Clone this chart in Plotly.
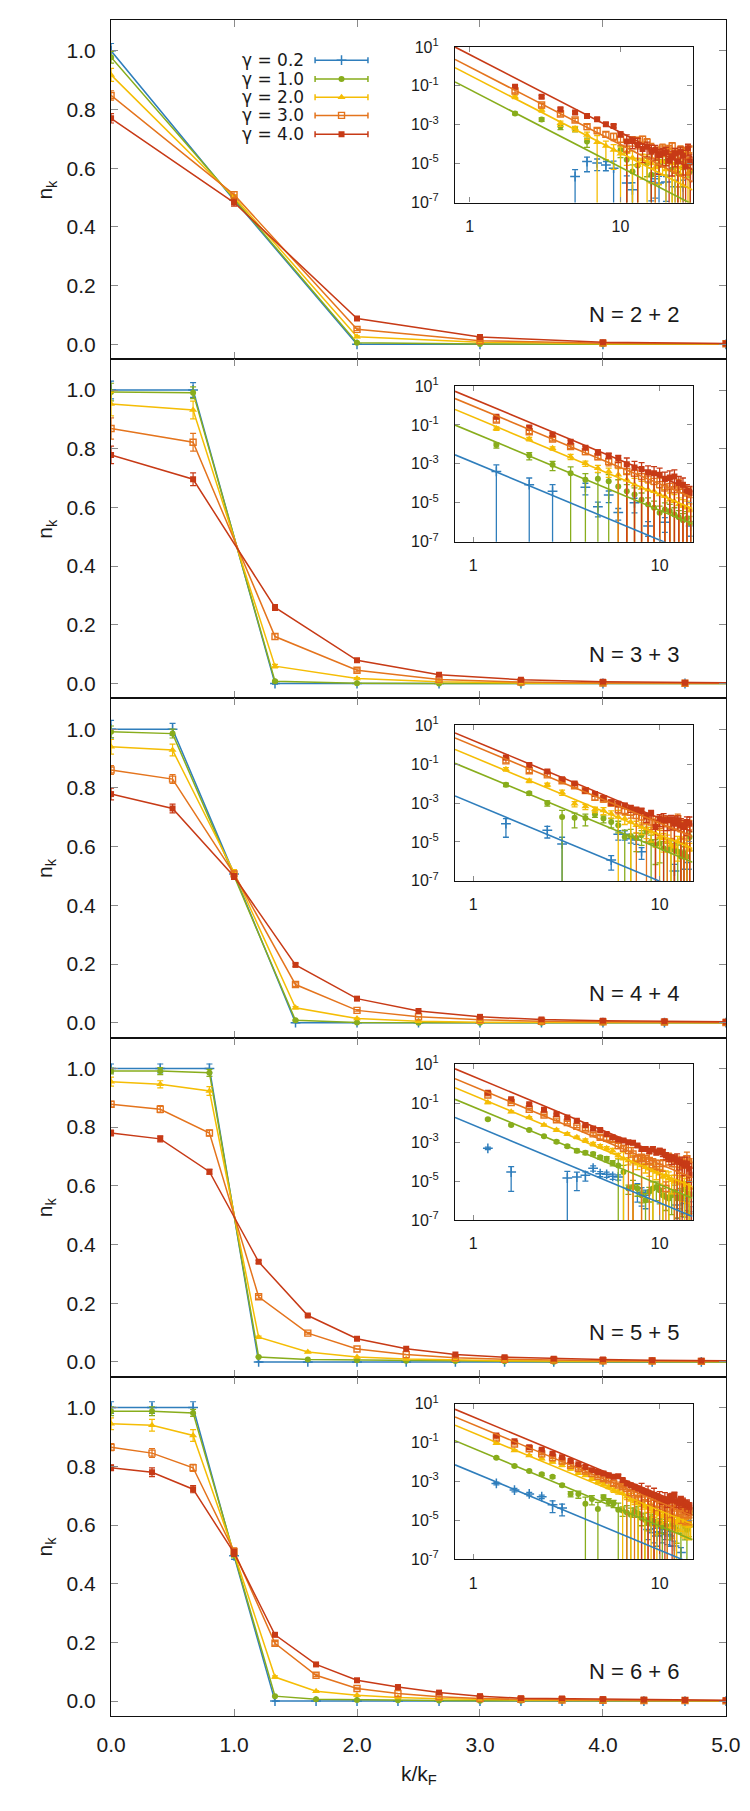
import math
import plotly.graph_objects as go

FONT = "Liberation Sans, Arial, Helvetica, sans-serif"
SERIES_NAMES = ["γ = 0.2", "γ = 1.0", "γ = 2.0", "γ = 3.0", "γ = 4.0"]
COLORS = ["#2f7ebc", "#88ad1c", "#f5bd05", "#e4741d", "#c73a16"]
SYMBOLS = ["cross-thin", "circle", "triangle-up", "square-open", "square"]
PANEL_LABELS = ["N = 2 + 2", "N = 3 + 3", "N = 4 + 4", "N = 5 + 5", "N = 6 + 6"]
MAIN_XTICKS = [0, 1, 2, 3, 4, 5]
MAIN_YTICKS = [0.0, 0.2, 0.4, 0.6, 0.8, 1.0]
INSET_XTICKS = [1, 10]
INSET_XTEXT = ["1", "10"]
INSET_YTICKS = [1e1, 1e-1, 1e-3, 1e-5, 1e-7]
INSET_YTEXT = ["10<sup>1</sup>", "10<sup>-1</sup>", "10<sup>-3</sup>", "10<sup>-5</sup>", "10<sup>-7</sup>"]

# ---------------- main panels: n_k vs k/k_F ----------------
P1_K = [0, 1, 2, 3, 4, 5]
P1_G02 = [1.000, 0.492, 0.000, 0.000, 0.000, 0.000]
P1_G10 = [0.978, 0.496, 0.005, 0.001, 0.000, 0.000]
P1_G20 = [0.918, 0.502, 0.026, 0.007, 0.002, 0.001]
P1_G30 = [0.848, 0.510, 0.051, 0.012, 0.004, 0.002]
P1_G40 = [0.770, 0.483, 0.088, 0.025, 0.007, 0.003]
P1_E02 = [0.025, 0.010, 0.0, 0.0, 0.0, 0.0]
P1_E10 = [0.020, 0.010, 0.002, 0.0, 0.0, 0.0]
P1_E20 = [0.022, 0.008, 0.003, 0.0, 0.0, 0.0]
P1_E30 = [0.016, 0.010, 0.004, 0.002, 0.0, 0.0]
P1_E40 = [0.016, 0.012, 0.004, 0.002, 0.0, 0.0]

P2_K = [0.0, 0.667, 1.333, 2.0, 2.667, 3.333, 4.0, 4.667, 5.333]
P2_G02 = [1.000, 1.000, 0.000, 0.000, 0.000, 0.000, 0.000, 0.000, 0.000]
P2_G10 = [0.993, 0.991, 0.008, 0.001, 0.000, 0.000, 0.000, 0.000, 0.000]
P2_G20 = [0.952, 0.932, 0.059, 0.017, 0.006, 0.002, 0.001, 0.001, 0.000]
P2_G30 = [0.869, 0.822, 0.160, 0.045, 0.014, 0.005, 0.002, 0.001, 0.001]
P2_G40 = [0.779, 0.696, 0.259, 0.079, 0.030, 0.013, 0.006, 0.003, 0.002]
P2_E02 = [0.030, 0.025, 0.002, 0.0, 0.0, 0.0, 0.0, 0.0, 0.0]
P2_E10 = [0.030, 0.020, 0.003, 0.0, 0.0, 0.0, 0.0, 0.0, 0.0]
P2_E20 = [0.040, 0.030, 0.006, 0.003, 0.0, 0.0, 0.0, 0.0, 0.0]
P2_E30 = [0.036, 0.030, 0.010, 0.005, 0.002, 0.0, 0.0, 0.0, 0.0]
P2_E40 = [0.030, 0.022, 0.010, 0.004, 0.002, 0.0, 0.0, 0.0, 0.0]

P3_K = [0.0, 0.5, 1.0, 1.5, 2.0, 2.5, 3.0, 3.5, 4.0, 4.5, 5.0]
P3_G02 = [1.000, 1.000, 0.507, 0.000, 0.000, 0.000, 0.000, 0.000, 0.000, 0.000, 0.000]
P3_G10 = [0.991, 0.985, 0.500, 0.008, 0.001, 0.000, 0.000, 0.000, 0.000, 0.000, 0.000]
P3_G20 = [0.940, 0.929, 0.512, 0.051, 0.014, 0.005, 0.002, 0.001, 0.001, 0.000, 0.000]
P3_G30 = [0.861, 0.830, 0.507, 0.130, 0.042, 0.020, 0.010, 0.005, 0.003, 0.002, 0.001]
P3_G40 = [0.779, 0.730, 0.498, 0.197, 0.082, 0.040, 0.020, 0.011, 0.007, 0.005, 0.003]
P3_E02 = [0.030, 0.020, 0.010, 0.0, 0.0, 0.0, 0.0, 0.0, 0.0, 0.0, 0.0]
P3_E10 = [0.020, 0.015, 0.010, 0.002, 0.0, 0.0, 0.0, 0.0, 0.0, 0.0, 0.0]
P3_E20 = [0.025, 0.020, 0.010, 0.004, 0.002, 0.0, 0.0, 0.0, 0.0, 0.0, 0.0]
P3_E30 = [0.015, 0.015, 0.010, 0.006, 0.003, 0.0, 0.0, 0.0, 0.0, 0.0, 0.0]
P3_E40 = [0.020, 0.015, 0.010, 0.006, 0.003, 0.0, 0.0, 0.0, 0.0, 0.0, 0.0]

P4_K = [0.0, 0.4, 0.8, 1.2, 1.6, 2.0, 2.4, 2.8, 3.2, 3.6, 4.0, 4.4, 4.8, 5.2]
P4_G02 = [1.000, 1.000, 1.000, 0.000, 0.000, 0.000, 0.000, 0.000, 0.000, 0.000, 0.000, 0.000, 0.000, 0.000]
P4_G10 = [0.991, 0.991, 0.985, 0.017, 0.008, 0.006, 0.004, 0.003, 0.002, 0.001, 0.001, 0.001, 0.000, 0.000]
P4_G20 = [0.955, 0.946, 0.923, 0.084, 0.034, 0.017, 0.010, 0.006, 0.004, 0.003, 0.002, 0.001, 0.001, 0.001]
P4_G30 = [0.878, 0.861, 0.780, 0.222, 0.098, 0.044, 0.025, 0.014, 0.009, 0.006, 0.004, 0.003, 0.002, 0.002]
P4_G40 = [0.780, 0.760, 0.648, 0.341, 0.158, 0.079, 0.045, 0.025, 0.016, 0.011, 0.008, 0.006, 0.004, 0.003]
P4_E02 = [0.015, 0.015, 0.015, 0.0, 0.0, 0.0, 0.0, 0.0, 0.0, 0.0, 0.0, 0.0, 0.0, 0.0]
P4_E10 = [0.010, 0.012, 0.012, 0.002, 0.0, 0.0, 0.0, 0.0, 0.0, 0.0, 0.0, 0.0, 0.0, 0.0]
P4_E20 = [0.015, 0.012, 0.015, 0.004, 0.002, 0.0, 0.0, 0.0, 0.0, 0.0, 0.0, 0.0, 0.0, 0.0]
P4_E30 = [0.010, 0.012, 0.010, 0.005, 0.003, 0.0, 0.0, 0.0, 0.0, 0.0, 0.0, 0.0, 0.0, 0.0]
P4_E40 = [0.010, 0.010, 0.008, 0.005, 0.003, 0.0, 0.0, 0.0, 0.0, 0.0, 0.0, 0.0, 0.0, 0.0]

P5_K = [0.0, 0.333, 0.667, 1.0, 1.333, 1.667, 2.0, 2.333, 2.667, 3.0, 3.333, 3.667, 4.0, 4.333, 4.667, 5.0]
P5_G02 = [1.000, 1.000, 1.000, 0.495, 0.000, 0.000, 0.000, 0.000, 0.000, 0.000, 0.000, 0.000, 0.000, 0.000, 0.000, 0.000]
P5_G10 = [0.988, 0.988, 0.982, 0.500, 0.017, 0.006, 0.004, 0.003, 0.002, 0.001, 0.001, 0.001, 0.000, 0.000, 0.000, 0.000]
P5_G20 = [0.945, 0.940, 0.905, 0.505, 0.082, 0.034, 0.020, 0.012, 0.008, 0.005, 0.004, 0.003, 0.002, 0.002, 0.001, 0.001]
P5_G30 = [0.865, 0.845, 0.795, 0.510, 0.197, 0.088, 0.043, 0.026, 0.015, 0.009, 0.006, 0.004, 0.003, 0.002, 0.002, 0.001]
P5_G40 = [0.795, 0.780, 0.722, 0.505, 0.226, 0.125, 0.071, 0.048, 0.029, 0.017, 0.010, 0.009, 0.007, 0.005, 0.004, 0.003]
P5_E02 = [0.020, 0.020, 0.020, 0.012, 0.0, 0.0, 0.0, 0.0, 0.0, 0.0, 0.0, 0.0, 0.0, 0.0, 0.0, 0.0]
P5_E10 = [0.015, 0.015, 0.012, 0.012, 0.002, 0.0, 0.0, 0.0, 0.0, 0.0, 0.0, 0.0, 0.0, 0.0, 0.0, 0.0]
P5_E20 = [0.020, 0.020, 0.020, 0.012, 0.004, 0.002, 0.0, 0.0, 0.0, 0.0, 0.0, 0.0, 0.0, 0.0, 0.0, 0.0]
P5_E30 = [0.012, 0.015, 0.012, 0.012, 0.006, 0.004, 0.002, 0.0, 0.0, 0.0, 0.0, 0.0, 0.0, 0.0, 0.0, 0.0]
P5_E40 = [0.010, 0.015, 0.012, 0.012, 0.006, 0.004, 0.002, 0.0, 0.0, 0.0, 0.0, 0.0, 0.0, 0.0, 0.0, 0.0]

# ---------------- insets: log10(n_k) tails, relative errors, fitted log10(C) of C/k^4 ----------------
P1I_K = [2, 3, 4, 5, 6, 7, 8, 9, 10, 11, 12, 13, 14, 15, 16, 17, 18, 19, 20, 21, 22, 23, 24, 25, 26, 27, 28, 29, 30]
P1I_G02 = [None, None, None, -5.67, -4.90, -4.97, -5.07, -5.24, None, -6.00, -6.35, None, None, None, -5.92, -5.78, -6.00, None, -5.95, None, None, -6.20, None, None, -6.20, None, None, None, None]
P1I_G10 = [-2.42, -2.73, -3.10, -3.22, -3.87, None, None, None, -4.30, -4.80, -5.41, -5.10, None, -4.98, -5.58, None, -5.07, None, -4.90, None, -5.30, None, -5.50, None, -5.20, None, -5.00, -5.40, None]
P1I_G20 = [-1.56, -2.25, -2.93, -3.20, -3.53, -3.90, -4.10, -4.30, -4.50, -4.40, -4.70, -5.07, -4.80, -4.90, -5.00, -5.20, -5.10, -4.90, -5.30, -4.47, -5.00, -5.40, -5.20, -5.60, -5.10, -4.47, -5.50, -5.30, None]
P1I_G30 = [-1.27, -1.99, -2.45, -2.76, -3.10, -3.30, -3.50, -3.60, -3.75, -4.25, -3.80, -3.85, -3.75, -3.90, -4.20, -4.60, -4.40, -4.20, -4.40, -4.30, -4.10, -4.50, -4.60, -4.30, -4.80, -4.40, -4.60, -4.30, None]
P1I_G40 = [-1.05, -1.56, -2.20, -2.38, -2.55, -2.72, -2.98, -3.07, -3.49, -3.87, -3.84, -4.04, -4.25, -4.13, -4.39, -4.30, -4.56, -4.47, -4.42, -4.86, -4.64, -4.47, -4.90, -4.39, -4.60, -5.15, -4.21, -4.90, -4.93]
P1I_R02 = [1, 1, 1, 1.3, 0.7, 0.6, 0.5, 1.3, 1, 1.3, 1.3, 1, 1, 1, 0.9, 0.9, 1.2, 1, 0.9, 1, 1, 1.2, 1, 1, 1.2, 1, 1, 1, 1]
P1I_R10 = [0.15, 0.2, 0.3, 0.3, 0.5, 0.5, 0.5, 0.5, 0.6, 1.2, 1.2, 1.2, 0.5, 0.8, 1.2, 0.5, 0.9, 0.5, 0.8, 0.5, 1.2, 0.5, 1.2, 0.5, 0.9, 0.5, 0.8, 1.2, 0.5]
P1I_R20 = [0.2, 0.2, 0.3, 0.3, 0.4, 1.2, 0.8, 0.9, 1.2, 0.8, 1.2, 1.2, 0.9, 1.2, 0.9, 1.2, 0.9, 0.8, 1.2, 0.7, 1.2, 1.2, 0.9, 1.2, 0.9, 0.7, 1.2, 1.2, 0.5]
P1I_R30 = [0.2, 0.2, 0.2, 0.2, 0.3, 0.3, 0.3, 0.4, 0.5, 1.2, 0.5, 0.6, 0.4, 0.5, 0.7, 1.2, 0.8, 0.6, 0.8, 0.7, 0.5, 0.9, 1.2, 0.6, 1.2, 0.7, 0.9, 0.6, 0.5]
P1I_R40 = [0.15, 0.15, 0.15, 0.15, 0.15, 0.2, 0.2, 0.2, 0.3, 1.2, 0.6, 1.2, 0.8, 0.7, 1.2, 0.7, 0.9, 0.8, 0.8, 1.2, 0.9, 0.8, 1.2, 0.7, 0.9, 1.2, 0.6, 1.2, 0.9]
P1_LOGC = [None, -1.19, -0.456, -0.03, 0.604]

P2I_K = [1.333, 2.0, 2.667, 3.333, 4.0, 4.667, 5.333, 6.0, 6.667, 7.333, 8.0, 8.667, 9.333, 10.0, 10.667, 11.333, 12.0, 12.667, 13.333, 14.0, 14.667]
P2I_G02 = [-3.39, -4.07, -4.41, None, -4.20, -5.20, -4.60, -5.50, None, -5.00, None, -6.20, None, None, -6.00, None, None, None, None, None, -6.20]
P2I_G10 = [-2.03, -2.57, -3.05, -3.48, -3.82, -3.77, -3.90, -4.16, -4.41, -4.58, -4.84, -5.09, -5.26, -5.52, -5.35, -5.43, -5.60, -5.75, -5.90, -5.80, -6.05]
P2I_G20 = [-1.18, -1.72, -2.20, -2.63, -2.97, -3.22, -3.39, -3.56, -3.82, -4.07, -4.24, -4.33, -4.41, -4.58, -4.67, -4.84, -4.92, -5.09, -5.18, -5.26, -5.40]
P2I_G30 = [-0.75, -1.35, -1.72, -2.11, -2.37, -2.63, -2.88, -3.05, -3.39, -3.48, -3.65, -3.78, -3.90, -4.07, -4.24, -4.16, -4.33, -4.16, -4.33, -4.50, -4.58]
P2I_G40 = [-0.58, -1.13, -1.49, -1.86, -2.17, -2.40, -2.57, -2.71, -3.02, -3.19, -3.26, -3.43, -3.48, -3.56, -3.77, -3.70, -3.65, -3.99, -4.07, -4.41, -4.50]
P2I_R02 = [1.2, 1.2, 1.2, 1, 0.6, 0.7, 0.6, 0.6, 1, 0.7, 1, 0.7, 1, 1, 0.7, 1, 1, 1, 1, 1, 0.7]
P2I_R10 = [0.3, 0.4, 0.5, 1.1, 1.1, 1.1, 1.2, 1.2, 1.2, 1.2, 1.2, 1.2, 1.2, 1.2, 1.2, 1.2, 1.2, 1.2, 1.2, 1.2, 1.2]
P2I_R20 = [0.2, 0.2, 0.2, 0.3, 0.3, 0.4, 0.5, 1.1, 1.1, 1.1, 1.2, 1.2, 1.2, 1.2, 1.2, 1.2, 1.2, 1.2, 1.2, 1.2, 1.2]
P2I_R30 = [0.2, 0.2, 0.2, 0.2, 0.3, 0.3, 0.4, 1.1, 1.1, 1.1, 1.1, 1.2, 1.2, 1.2, 1.2, 1.2, 1.2, 1.2, 1.2, 1.2, 1.2]
P2I_R40 = [0.2, 0.2, 0.2, 0.2, 0.2, 0.3, 0.3, 0.4, 1.1, 1.1, 1.1, 1.1, 1.2, 1.2, 1.2, 1.2, 1.2, 1.2, 1.2, 1.2, 1.2]
P2_LOGC = [-2.92, -1.39, -0.589, -0.027, 0.348]

P3I_K = [1.5, 2.0, 2.5, 3.0, 3.5, 4.0, 4.5, 5.0, 5.5, 6.0, 6.5, 7.0, 7.5, 8.0, 8.5, 9.0, 9.5, 10.0, 10.5, 11.0, 11.5, 12.0, 12.5, 13.0, 13.5, 14.0, 14.5]
P3I_G02 = [-4.06, None, -4.40, -5.10, None, None, None, None, -5.93, -4.60, -4.60, -4.84, -4.90, -5.50, None, None, None, None, None, None, None, -6.50, None, None, None, -6.40, None]
P3I_G10 = [-2.06, -2.50, -3.00, -3.72, -3.75, -3.77, -3.58, -3.80, -3.97, -4.14, -4.74, -4.70, -4.80, -4.65, -4.48, -4.99, -5.16, -5.08, -5.33, -5.42, -5.25, -5.42, -5.50, -5.76, -5.59, -5.76, -4.74]
P3I_G20 = [-1.26, -1.85, -2.06, -2.45, -3.04, -3.18, -3.33, -3.38, -3.55, -3.72, -3.80, -3.97, -4.14, -4.23, -4.31, -4.48, -4.57, -4.74, -4.82, -4.99, -5.16, -5.25, -4.99, -4.82, -5.08, -5.25, -5.42]
P3I_G30 = [-0.83, -1.34, -1.55, -1.85, -2.11, -2.36, -2.70, -2.79, -3.00, -3.33, -3.38, -3.47, -3.64, -3.72, -3.89, -3.97, -4.03, -4.14, -3.89, -4.06, -4.14, -4.23, -3.80, -4.31, -4.14, -4.40, -4.23]
P3I_G40 = [-0.66, -1.04, -1.38, -1.77, -1.99, -2.36, -2.53, -2.74, -2.96, -3.04, -3.13, -3.26, -3.35, -3.41, -3.69, -3.55, -4.23, -3.80, -3.89, -3.89, -3.86, -4.06, -3.89, -4.14, -4.23, -3.97, -4.06]
P3I_R02 = [0.8, 1, 0.6, 1.2, 1, 1, 1, 1, 0.7, 0.5, 0.5, 0.4, 0.4, 0.6, 1, 1, 1, 1, 1, 1, 1, 1.2, 1, 1, 1, 1.2, 1]
P3I_R10 = [0.2, 0.2, 0.3, 1.2, 0.7, 0.6, 0.3, 0.4, 0.5, 0.6, 1.2, 1.2, 0.8, 0.7, 0.7, 1.2, 0.9, 0.9, 1.2, 1.2, 1.0, 1.2, 1.2, 1.2, 1.2, 1.2, 0.8]
P3I_R20 = [0.2, 0.2, 0.2, 0.3, 0.3, 0.3, 0.3, 0.4, 0.4, 1.2, 0.5, 1.2, 0.6, 0.6, 0.7, 0.7, 0.8, 1.2, 0.8, 1.2, 1.2, 1.2, 0.9, 1.2, 1.2, 1.2, 1.2]
P3I_R30 = [0.2, 0.2, 0.2, 0.2, 0.2, 0.2, 0.3, 0.3, 0.3, 0.4, 0.4, 0.5, 1.2, 0.6, 1.2, 0.6, 1.2, 0.7, 0.7, 1.2, 0.8, 1.2, 0.7, 1.2, 0.8, 1.2, 1.2]
P3I_R40 = [0.2, 0.2, 0.2, 0.2, 0.2, 0.2, 0.2, 0.2, 0.3, 0.3, 0.3, 0.4, 0.4, 0.4, 0.5, 0.5, 1.2, 0.6, 1.2, 0.7, 0.7, 1.2, 0.7, 1.2, 1.2, 0.8, 1.2]
P3_LOGC = [-3.02, -1.34, -0.628, -0.033, 0.222]

P4I_K = [1.2, 1.6, 2.0, 2.4, 2.8, 3.2, 3.6, 4.0, 4.4, 4.8, 5.2, 5.6, 6.0, 6.4, 6.8, 7.2, 7.6, 8.0, 8.4, 8.8, 9.2, 9.6, 10.0, 10.4, 10.8, 11.2, 11.6, 12.0, 12.4, 12.8, 13.2, 13.6, 14.0, 14.4, 14.8]
P4I_G02 = [-3.31, -4.53, None, None, None, -4.84, -4.79, -4.70, -4.33, -4.62, -4.65, -4.75, -4.79, None, None, None, -5.38, -5.59, -5.72, None, None, None, None, None, None, None, None, None, -6.23, -5.72, -5.98, -6.15, -5.81, -6.06, -6.57]
P4I_G10 = [-1.81, -2.11, -2.37, -2.69, -2.97, -3.20, -3.43, -3.54, -3.60, -3.77, -3.85, -4.06, -4.19, -4.53, -5.38, -5.30, -5.38, -5.72, -5.98, -5.55, -5.38, -5.30, -5.47, -5.72, -5.81, -5.89, -5.72, -5.55, -5.89, -5.72, -5.81, -5.38, -5.64, -5.72, -5.67]
P4I_G20 = [-0.96, -1.43, -1.72, -2.11, -2.37, -2.57, -2.74, -2.91, -3.09, -3.20, -3.31, -3.43, -3.68, -3.85, -3.94, -4.02, -4.11, -4.19, -4.28, -4.36, -4.45, -4.53, -4.62, -4.79, -4.70, -4.87, -4.96, -5.04, -4.96, -5.13, -5.04, -5.21, -5.13, -5.30, -5.38]
P4I_G30 = [-0.57, -0.96, -1.30, -1.60, -1.84, -1.98, -2.18, -2.32, -2.57, -2.74, -2.80, -2.86, -3.17, -3.31, -3.43, -3.60, -3.85, -3.77, -3.85, -3.94, -4.02, -4.10, -4.28, -4.10, -5.38, -3.77, -3.85, -4.11, -3.94, -4.45, -4.19, -4.02, -3.85, -4.11, -4.19]
P4I_G40 = [-0.45, -0.79, -1.04, -1.33, -1.55, -1.72, -1.89, -2.11, -2.29, -2.37, -2.57, -2.74, -2.86, -2.91, -3.00, -3.03, -3.17, -3.34, -3.34, -3.43, -3.34, -3.51, -3.43, -3.51, -3.68, -3.77, -3.85, -3.82, -3.94, -4.02, -4.11, -4.19, -4.11, -4.36, -4.67]
P4I_R02 = [0.15, 0.9, 1, 1, 1, 1.2, 0.8, 0.5, 0.3, 0.3, 0.3, 0.3, 0.3, 1, 1, 1, 0.8, 0.8, 0.8, 1, 1, 1, 1, 1, 1, 1, 1, 1, 0.8, 0.8, 0.8, 0.8, 0.8, 0.8, 0.8]
P4I_R10 = [0.1, 0.1, 0.1, 0.1, 0.15, 0.15, 0.2, 0.2, 0.2, 0.2, 0.3, 0.3, 1.2, 1.2, 0.5, 1.2, 0.6, 0.6, 1.2, 0.7, 1.2, 0.8, 0.8, 1.2, 0.8, 1.2, 0.9, 1.2, 0.9, 1.2, 0.9, 1.2, 0.9, 1.2, 0.9]
P4I_R20 = [0.1, 0.1, 0.1, 0.1, 0.15, 0.15, 0.15, 0.2, 0.2, 0.2, 0.2, 0.3, 0.3, 1.2, 0.4, 1.2, 0.5, 1.2, 0.5, 0.6, 1.2, 0.6, 0.7, 1.2, 0.7, 1.2, 0.8, 1.2, 0.8, 1.2, 0.9, 1.2, 0.9, 1.2, 1.2]
P4I_R30 = [0.1, 0.1, 0.1, 0.1, 0.1, 0.15, 0.15, 0.15, 0.15, 0.2, 0.2, 0.2, 0.3, 0.3, 1.2, 1.2, 0.4, 1.2, 0.5, 1.2, 0.5, 0.5, 1.2, 0.6, 1.2, 0.6, 0.6, 1.2, 0.7, 1.2, 0.7, 0.8, 1.2, 0.8, 1.2]
P4I_R40 = [0.1, 0.1, 0.1, 0.1, 0.1, 0.1, 0.1, 0.1, 0.15, 0.15, 0.15, 0.15, 0.2, 0.2, 0.2, 0.2, 0.2, 0.25, 0.25, 0.3, 0.3, 0.3, 0.3, 0.4, 0.4, 0.4, 0.5, 0.5, 1.2, 0.6, 1.2, 0.7, 1.2, 0.8, 1.2]
P4_LOGC = [-2.11, -1.175, -0.58, -0.12, 0.391]

P5I_K = [1.333, 1.667, 2.0, 2.333, 2.667, 3.0, 3.333, 3.667, 4.0, 4.333, 4.667, 5.0, 5.333, 5.667, 6.0, 6.333, 6.667, 7.0, 7.333, 7.667, 8.0, 8.333, 8.667, 9.0, 9.333, 9.667, 10.0, 10.333, 10.667, 11.0, 11.333, 11.667, 12.0, 12.333, 12.667, 13.0, 13.333, 13.667, 14.0, 14.333, 14.667]
P5I_G02 = [-3.10, -3.44, -3.64, -3.78, -4.20, -4.37, None, None, None, None, None, None, None, None, None, None, None, None, None, None, None, None, -5.47, -5.22, -5.64, -5.81, -5.39, -5.64, -5.47, -5.73, -5.81, None, -6.32, None, None, -6.66, None, None, None, None, None]
P5I_G10 = [-1.78, -2.20, -2.46, -2.63, -2.76, -3.19, -3.64, -3.64, -4.15, -3.90, -4.42, -3.81, -4.03, -4.12, -4.46, -4.49, -4.59, -4.71, -4.54, -4.63, -4.88, -4.97, -5.14, -4.88, -5.05, -5.22, -5.14, -5.31, -5.17, -5.39, -5.31, -5.22, -5.31, -5.48, -4.97, -5.05, -5.14, -5.31, -5.48, -5.14, -4.63]
P5I_G20 = [-1.03, -1.41, -1.66, -1.83, -2.00, -2.17, -2.34, -2.56, -2.68, -2.85, -3.02, -3.14, -3.27, -3.44, -3.53, -3.61, -3.78, -3.95, -4.03, -4.12, -4.20, -4.29, -4.37, -4.46, -4.54, -4.63, -4.71, -4.80, -4.71, -4.88, -4.97, -4.88, -5.05, -5.14, -4.97, -5.05, -5.14, -5.22, -5.14, -5.31, -5.27]
P5I_G30 = [-0.76, -1.07, -1.32, -1.58, -1.78, -1.95, -2.17, -2.34, -2.46, -2.59, -2.73, -2.85, -2.93, -3.10, -3.19, -3.27, -3.36, -3.58, -3.69, -3.86, -3.95, -3.78, -3.86, -4.03, -4.12, -4.20, -4.29, -4.12, -4.20, -4.37, -4.46, -4.29, -4.59, -4.37, -4.29, -4.63, -4.46, -4.71, -4.54, -4.63, -4.71]
P5I_G40 = [-0.64, -0.93, -1.24, -1.37, -1.58, -1.75, -1.95, -2.12, -2.25, -2.42, -2.51, -2.59, -2.68, -2.76, -2.73, -2.93, -3.10, -3.19, -3.27, -3.36, -3.44, -3.53, -3.58, -3.64, -3.69, -3.78, -3.86, -3.95, -3.92, -4.03, -3.78, -3.95, -3.69, -4.03, -4.12, -3.95, -4.03, -4.20, -4.12, -4.29, -4.32]
P5I_R02 = [0.15, 0.2, 0.2, 0.2, 0.6, 0.6, 1, 1, 1, 1, 1, 1, 1, 1, 1, 1, 1, 1, 1, 1, 1, 1, 0.7, 0.6, 0.7, 0.7, 0.6, 0.7, 0.7, 0.7, 0.7, 1, 0.8, 1, 1, 0.8, 1, 1, 1, 1, 1]
P5I_R10 = [0.1, 0.1, 0.1, 0.15, 0.15, 0.15, 0.3, 0.4, 1.2, 0.5, 1.2, 0.3, 0.4, 0.4, 1.2, 0.5, 1.2, 1.2, 0.5, 1.2, 0.6, 1.2, 0.6, 0.6, 1.2, 0.7, 0.7, 1.2, 0.7, 1.2, 0.8, 0.8, 1.2, 0.8, 0.8, 1.2, 0.8, 0.8, 1.2, 0.8, 0.8]
P5I_R20 = [0.1, 0.1, 0.1, 0.1, 0.1, 0.15, 0.15, 0.15, 0.15, 0.2, 0.2, 0.2, 0.2, 0.25, 0.25, 1.2, 0.3, 1.2, 0.3, 1.2, 0.4, 1.2, 0.4, 1.2, 0.5, 1.2, 0.5, 0.6, 0.6, 1.2, 0.6, 0.7, 0.7, 1.2, 0.7, 0.7, 0.8, 0.8, 0.8, 0.8, 0.8]
P5I_R30 = [0.1, 0.1, 0.1, 0.1, 0.1, 0.1, 0.15, 0.15, 0.15, 0.15, 0.15, 0.2, 0.2, 0.2, 0.2, 0.25, 1.2, 0.3, 1.2, 0.3, 1.2, 0.4, 1.2, 0.4, 1.2, 0.5, 1.2, 0.5, 0.5, 1.2, 0.6, 0.6, 1.2, 0.6, 0.6, 0.7, 0.6, 0.7, 0.7, 0.7, 0.7]
P5I_R40 = [0.1, 0.1, 0.1, 0.1, 0.1, 0.1, 0.1, 0.1, 0.15, 0.15, 0.15, 0.15, 0.15, 0.2, 0.2, 0.2, 0.2, 0.2, 0.25, 0.25, 1.2, 0.3, 1.2, 0.3, 1.2, 0.4, 1.2, 0.4, 1.2, 0.5, 0.4, 1.2, 0.4, 0.5, 0.5, 0.5, 0.5, 0.6, 0.5, 0.6, 0.6]
P5_LOGC = [-2.53, -1.29, -0.49, -0.066, 0.324]

# ---------------- layout constants ----------------
W, H = 750, 1811
M_L, M_R, M_T, M_B = 111, 24, 9, 95
PLOT_W = W - M_L - M_R
PLOT_H = H - M_T - M_B
N_PANELS = 5
MAIN_YRANGE = [-0.0507, 1.105]
INSET_X_DOMAIN = [(455 - M_L) / PLOT_W, (692.5 - M_L) / PLOT_W]
INSET_TOP_OFF = 27 / PLOT_H
INSET_BOT_OFF = 183.7 / PLOT_H
INSET_XMIN = 0.8
INSET_XMAX = [30, 15, 15, 15, 15]
LEGEND_TEXT_X = 1.585
LEGEND_SAMPLE_X = 1.874
LEGEND_SAMPLE_HALF = 0.215
LEGEND_ROWS = [0.968, 0.904, 0.842, 0.780, 0.716]
LABEL_X, LABEL_Y = 4.64, 0.10

PANELS = [
    dict(k=P1_K, n=[P1_G02, P1_G10, P1_G20, P1_G30, P1_G40], e=[P1_E02, P1_E10, P1_E20, P1_E30, P1_E40],
         ik=P1I_K, iv=[P1I_G02, P1I_G10, P1I_G20, P1I_G30, P1I_G40], ir=[P1I_R02, P1I_R10, P1I_R20, P1I_R30, P1I_R40], c=P1_LOGC),
    dict(k=P2_K, n=[P2_G02, P2_G10, P2_G20, P2_G30, P2_G40], e=[P2_E02, P2_E10, P2_E20, P2_E30, P2_E40],
         ik=P2I_K, iv=[P2I_G02, P2I_G10, P2I_G20, P2I_G30, P2I_G40], ir=[P2I_R02, P2I_R10, P2I_R20, P2I_R30, P2I_R40], c=P2_LOGC),
    dict(k=P3_K, n=[P3_G02, P3_G10, P3_G20, P3_G30, P3_G40], e=[P3_E02, P3_E10, P3_E20, P3_E30, P3_E40],
         ik=P3I_K, iv=[P3I_G02, P3I_G10, P3I_G20, P3I_G30, P3I_G40], ir=[P3I_R02, P3I_R10, P3I_R20, P3I_R30, P3I_R40], c=P3_LOGC),
    dict(k=P4_K, n=[P4_G02, P4_G10, P4_G20, P4_G30, P4_G40], e=[P4_E02, P4_E10, P4_E20, P4_E30, P4_E40],
         ik=P4I_K, iv=[P4I_G02, P4I_G10, P4I_G20, P4I_G30, P4I_G40], ir=[P4I_R02, P4I_R10, P4I_R20, P4I_R30, P4I_R40], c=P4_LOGC),
    dict(k=P5_K, n=[P5_G02, P5_G10, P5_G20, P5_G30, P5_G40], e=[P5_E02, P5_E10, P5_E20, P5_E30, P5_E40],
         ik=P5I_K, iv=[P5I_G02, P5I_G10, P5I_G20, P5I_G30, P5I_G40], ir=[P5I_R02, P5I_R10, P5I_R20, P5I_R30, P5I_R40], c=P5_LOGC),
]


def marker(s, size=6):
    sym = SYMBOLS[s]
    col = COLORS[s]
    if sym == "cross-thin":
        return dict(symbol=sym, size=size + 1, color=col, line=dict(color=col, width=1.5))
    if sym == "square-open":
        return dict(symbol=sym, size=size, color=col, line=dict(color=col, width=1.4))
    if sym == "triangle-up":
        return dict(symbol=sym, size=size + 1, color=col, line=dict(width=0))
    return dict(symbol=sym, size=size, color=col, line=dict(width=0))


def ax_name(n, letter):
    return letter if n == 1 else f"{letter}{n}"


fig = go.Figure()
layout_axes = {}
annotations = []

for i, p in enumerate(PANELS):
    assert all(len(v) == len(p["k"]) for v in p["n"] + p["e"])
    assert all(len(v) == len(p["ik"]) for v in p["iv"] + p["ir"])
    ma, ia = 2 * i + 1, 2 * i + 2
    mx, my = ax_name(ma, "x"), ax_name(ma, "y")
    ix, iy = ax_name(ia, "x"), ax_name(ia, "y")
    top = 1 - i / N_PANELS
    bot = 1 - (i + 1) / N_PANELS

    # main curves
    for s in range(5):
        fig.add_trace(go.Scatter(
            x=p["k"], y=p["n"][s], mode="lines+markers", xaxis=mx, yaxis=my,
            line=dict(color=COLORS[s], width=1.5), marker=marker(s),
            error_y=dict(type="data", array=p["e"][s], color=COLORS[s], thickness=1.2, width=3),
            showlegend=False, hoverinfo="skip", cliponaxis=True))

    # inset data
    for s in range(5):
        ys = [None if v is None else 10 ** v for v in p["iv"][s]]
        es = [0 if y is None else r * y for y, r in zip(ys, p["ir"][s])]
        fig.add_trace(go.Scatter(
            x=p["ik"], y=ys, mode="markers", xaxis=ix, yaxis=iy,
            marker=marker(s, 6),
            error_y=dict(type="data", array=es, color=COLORS[s], thickness=1.3, width=3),
            showlegend=False, hoverinfo="skip", cliponaxis=True))
    # inset C/k^4 fits
    for s in range(5):
        lc = p["c"][s]
        if lc is None:
            continue
        kx = [INSET_XMIN, INSET_XMAX[i]]
        fig.add_trace(go.Scatter(
            x=kx, y=[10 ** lc / k ** 4 for k in kx], mode="lines", xaxis=ix, yaxis=iy,
            line=dict(color=COLORS[s], width=1.6), showlegend=False, hoverinfo="skip"))

    common = dict(showline=True, linecolor="#111111", mirror="ticks", ticks="inside",
                  tickcolor="#8a8a8a", tickwidth=1, showgrid=False, zeroline=False)
    layout_axes[ax_name(ma, "xaxis")] = dict(
        common, domain=[0, 1], anchor=my, range=[-0.0005, 5.0005], linewidth=1.1,
        tickvals=MAIN_XTICKS, tickformat=".1f", ticklen=7,
        showticklabels=(i == N_PANELS - 1), ticklabelstandoff=10,
        tickfont=dict(family=FONT, size=21, color="#1a1a1a"))
    layout_axes[ax_name(ma, "yaxis")] = dict(
        common, domain=[bot, top], anchor=mx, range=MAIN_YRANGE, linewidth=1.1,
        tickvals=MAIN_YTICKS, tickformat=".1f", ticklen=7, ticklabelstandoff=10,
        tickfont=dict(family=FONT, size=21, color="#1a1a1a"))
    layout_axes[ax_name(ia, "xaxis")] = dict(
        common, domain=INSET_X_DOMAIN, anchor=iy, type="log", linewidth=1.1,
        range=[math.log10(INSET_XMIN), math.log10(INSET_XMAX[i])],
        tickvals=INSET_XTICKS, ticktext=INSET_XTEXT, ticklen=5, ticklabelstandoff=9,
        tickfont=dict(family=FONT, size=16, color="#1a1a1a"))
    layout_axes[ax_name(ia, "yaxis")] = dict(
        common, domain=[top - INSET_BOT_OFF, top - INSET_TOP_OFF], anchor=ix, type="log",
        linewidth=1.1, range=[-7.005, 1.005],
        tickvals=INSET_YTICKS, ticktext=INSET_YTEXT, ticklen=5, ticklabelstandoff=12,
        tickfont=dict(family=FONT, size=16, color="#1a1a1a"))

    annotations.append(dict(xref="paper", yref="paper", x=(46 - M_L) / PLOT_W, y=(top + bot) / 2,
                            text="n<sub>k</sub>", textangle=-90, showarrow=False,
                            xanchor="center", yanchor="middle",
                            font=dict(family=FONT, size=21, color="#1a1a1a")))
    annotations.append(dict(xref=mx, yref=my, x=LABEL_X, y=LABEL_Y, text=PANEL_LABELS[i],
                            showarrow=False, xanchor="right", yanchor="middle",
                            font=dict(family=FONT, size=22, color="#1a1a1a")))

# legend drawn inside panel 1
for s in range(5):
    fig.add_trace(go.Scatter(
        x=[LEGEND_SAMPLE_X], y=[LEGEND_ROWS[s]], mode="markers", xaxis="x", yaxis="y",
        marker=marker(s),
        error_x=dict(type="constant", value=LEGEND_SAMPLE_HALF, color=COLORS[s], thickness=1.5, width=3),
        showlegend=False, hoverinfo="skip"))
    annotations.append(dict(xref="x", yref="y", x=LEGEND_TEXT_X, y=LEGEND_ROWS[s], text=SERIES_NAMES[s],
                            showarrow=False, xanchor="right", yanchor="middle",
                            font=dict(family="DejaVu Sans, " + FONT, size=17, color="#1a1a1a")))

annotations.append(dict(xref="paper", yref="paper", x=0.5, y=-59 / PLOT_H, text="k/k<sub>F</sub>",
                        showarrow=False, xanchor="center", yanchor="middle",
                        font=dict(family=FONT, size=21, color="#1a1a1a")))

fig.update_layout(
    width=W, height=H, margin=dict(l=M_L, r=M_R, t=M_T, b=M_B, pad=0),
    paper_bgcolor="white", plot_bgcolor="rgba(0,0,0,0)", showlegend=False,
    annotations=annotations, font=dict(family=FONT, color="#1a1a1a"),
    **layout_axes)

fig.write_html("out.html")
